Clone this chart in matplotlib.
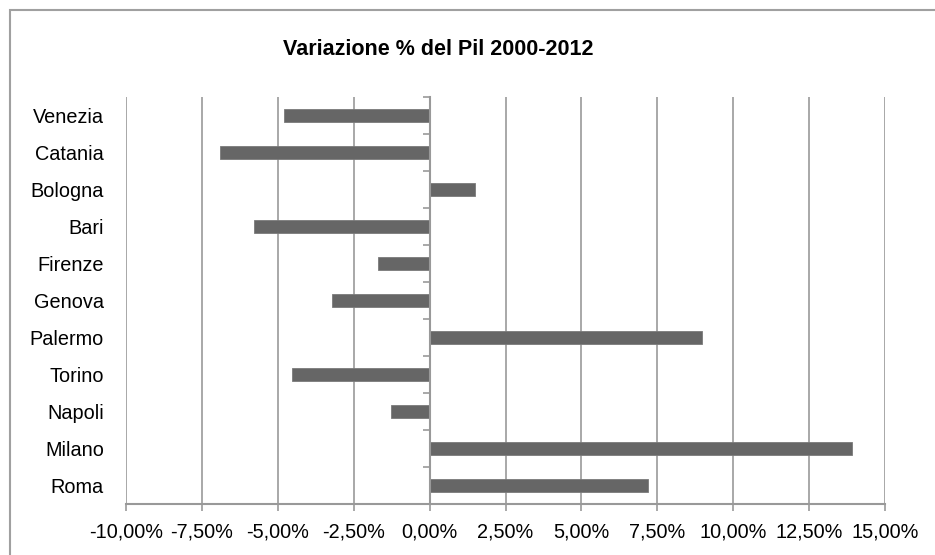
import matplotlib.pyplot as plt
from matplotlib.patches import Rectangle
from matplotlib.ticker import FuncFormatter, FixedLocator

plt.rcParams['font.family'] = ['Liberation Sans', 'DejaVu Sans']

# data, bottom to top as drawn
cities = ['Roma', 'Milano', 'Napoli', 'Torino', 'Palermo', 'Genova',
          'Firenze', 'Bari', 'Bologna', 'Catania', 'Venezia']
variation = [7.21, 13.90, -1.28, -4.54, 8.96, -3.20,
             -1.69, -5.79, 1.50, -6.89, -4.80]
xticks = [-10, -7.5, -5, -2.5, 0, 2.5, 5, 7.5, 10, 12.5, 15]

fig = plt.figure(figsize=(9.35, 5.55), dpi=100)
ax = fig.add_axes([0.1348, 0.0913, 0.8117, 0.7345])

ypos = list(range(len(cities)))
ax.barh(ypos, variation, height=0.35, color='#666666', edgecolor='#7a7a7a',
        linewidth=0.6, zorder=3)

ax.set_xlim(-10, 15)
ax.set_ylim(-0.5, len(cities) - 0.5)
ax.set_xticks(xticks)
ax.xaxis.set_major_formatter(FuncFormatter(lambda v, p: f'{v:.2f}%'.replace('.', ',')))
ax.set_yticks(ypos)
ax.set_yticklabels(cities)

ax.grid(axis='x', color='#999999', linewidth=1.2, zorder=0)
ax.grid(axis='y', visible=False)

for s in ['top', 'right', 'left']:
    ax.spines[s].set_visible(False)
ax.spines['bottom'].set_color('#999999')
ax.spines['bottom'].set_linewidth(1.5)

ax.tick_params(axis='x', direction='out', length=5, width=1.2, color='#999999',
               labelsize=14.3, pad=8)
ax.tick_params(axis='y', length=0, labelsize=14.3, pad=16)

# vertical axis at zero with ticks between categories
zero_loc = (0 - xticks[0]) / (xticks[-1] - xticks[0])
sec = ax.secondary_yaxis(zero_loc)
sec.spines['left'].set_color('#999999')
sec.spines['left'].set_linewidth(1.5)
sec.yaxis.set_major_locator(FixedLocator([i - 0.5 for i in range(len(cities) + 1)]))
sec.tick_params(axis='y', direction='out', length=5, width=1.2, color='#999999',
                labelleft=False)
sec.set_zorder(4)

fig.text(438 / 935, 1 - 55 / 555, 'Variazione % del Pil 2000-2012', ha='center',
         va='baseline', fontsize=15.5, fontweight='bold')

fig.add_artist(Rectangle((10 / 935, -0.1), 1.2, 1 - 10 / 555 + 0.1, transform=fig.transFigure,
                         fill=False, edgecolor='#a0a0a0', linewidth=1.5))

fig.savefig('out.png', dpi=100)
